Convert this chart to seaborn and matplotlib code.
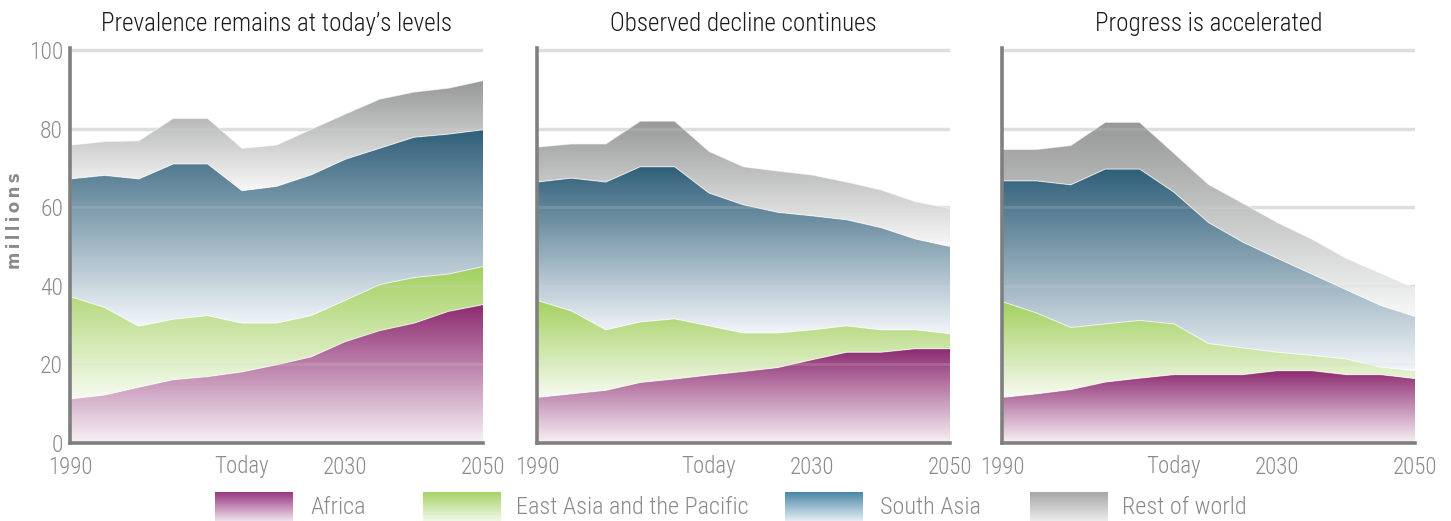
import numpy as np
import pandas as pd
import matplotlib
matplotlib.use("Agg")
import matplotlib.pyplot as plt
import seaborn as sns
from matplotlib.colors import LinearSegmentedColormap
from matplotlib.patches import Polygon
from matplotlib import font_manager

# ---------------- data ----------------
years = [1990, 1995, 2000, 2005, 2010, 2015, 2020, 2025, 2030, 2035, 2040, 2045, 2050]
tick_years = [1990, 2015, 2030, 2050]
tick_labels = ["1990", "Today", "2030", "2050"]
regions = ["Africa", "East Asia and the Pacific", "South Asia", "Rest of world"]
titles = ["Prevalence remains at today\u2019s levels", "Observed decline continues", "Progress is accelerated"]
y_ticks = [0, 20, 40, 60, 80, 100]

# scenario 1: prevalence remains at today's levels (millions)
s1_africa = [11.2, 12.2, 14.2, 16.1, 16.9, 18.1, 19.9, 21.9, 25.8, 28.6, 30.5, 33.5, 35.2]
s1_eap    = [26.1, 22.3, 15.5, 15.4, 15.5, 12.4, 10.6, 10.5, 10.5, 11.7, 11.6, 9.5, 9.7]
s1_sasia  = [29.9, 33.6, 37.5, 39.5, 38.6, 33.7, 34.8, 35.8, 35.9, 34.7, 35.7, 35.6, 34.8]
s1_rest   = [8.6, 8.6, 9.7, 11.6, 11.6, 10.8, 10.5, 11.6, 11.5, 12.5, 11.5, 11.7, 12.5]

# scenario 2: observed decline continues
s2_africa = [11.6, 12.5, 13.4, 15.4, 16.3, 17.3, 18.2, 19.2, 21.2, 23.1, 23.1, 24.0, 24.0]
s2_eap    = [24.7, 21.1, 15.4, 15.4, 15.3, 12.5, 9.8, 8.8, 7.6, 6.7, 5.7, 4.8, 3.8]
s2_sasia  = [30.1, 33.8, 37.6, 39.5, 38.7, 33.8, 32.6, 30.7, 29.0, 27.0, 26.0, 23.1, 22.2]
s2_rest   = [8.9, 8.7, 9.7, 11.6, 11.6, 10.6, 9.7, 10.5, 10.4, 9.6, 9.6, 9.5, 9.7]

# scenario 3: progress is accelerated
s3_africa = [11.6, 12.5, 13.6, 15.5, 16.5, 17.4, 17.4, 17.4, 18.4, 18.4, 17.4, 17.4, 16.4]
s3_eap    = [24.4, 20.6, 15.8, 14.8, 14.7, 12.9, 7.9, 6.8, 4.7, 3.9, 4.0, 1.9, 2.0]
s3_sasia  = [30.7, 33.6, 36.3, 39.4, 38.5, 33.5, 30.8, 26.9, 23.9, 20.7, 17.6, 15.7, 13.8]
s3_rest   = [8.0, 8.0, 10.0, 11.9, 11.9, 9.9, 9.7, 9.9, 9.1, 8.9, 8.0, 8.2, 7.2]

scenarios = [
    [s1_africa, s1_eap, s1_sasia, s1_rest],
    [s2_africa, s2_eap, s2_sasia, s2_rest],
    [s3_africa, s3_eap, s3_sasia, s3_rest],
]

# gradient colours (top, bottom) per region
top_colors = ["#8c2a70", "#a3d05f", "#2f5f79", "#979898"]
bot_colors = ["#f8f1f6", "#f7fbf1", "#f3f6fa", "#f8f8f8"]
leg_top_colors = ["#983580", "#a6d366", "#4a86a8", "#a6a6a6"]
leg_bot_colors = ["#efe2ec", "#f1f8e8", "#e6eef4", "#ececec"]

# ---------------- style ----------------
sns.set_theme(style="white")
avail = {f.name for f in font_manager.fontManager.ttflist}
FONT = "DejaVu Sans"
for cand in ["Roboto Condensed", "Liberation Sans Narrow", "DejaVu Sans"]:
    if cand in avail:
        FONT = cand
        break
plt.rcParams["font.family"] = [FONT, "DejaVu Sans"]
plt.rcParams["font.weight"] = "light"

W, H = 1451, 521
fig = plt.figure(figsize=(W / 100, H / 100), dpi=100)

GRAY_TXT = "#8a8a8a"
SPINE = "#7f7f7f"

panel_left_px = [70, 537, 1002]
panel_w_px = 413
y0_px, y100_px = 443, 50
ytop = 100.6
px_per_unit = (y0_px - y100_px) / 100.0
top_px = y0_px - ytop * px_per_unit


def grad_fill(ax, x, lo, hi, c_top, c_bot, z):
    verts = np.vstack([np.column_stack([x, hi]), np.column_stack([x[::-1], lo[::-1]])])
    patch = Polygon(verts, closed=True, facecolor="none", edgecolor="none", zorder=z)
    ax.add_patch(patch)
    cmap = LinearSegmentedColormap.from_list("g", [c_bot, c_top])
    grad = np.linspace(0, 1, 256).reshape(-1, 1)
    im = ax.imshow(grad, cmap=cmap, aspect="auto", origin="lower",
                   extent=[x[0], x[-1], lo.min(), hi.max()], zorder=z,
                   interpolation="bilinear")
    im.set_clip_path(patch)


x = np.array(years, dtype=float)
for i, layers in enumerate(scenarios):
    left = panel_left_px[i] / W
    bottom = (H - y0_px) / H
    ax = fig.add_axes([left, bottom, panel_w_px / W, (y0_px - top_px) / H])
    cum = np.zeros(len(years))
    rows = []
    for k, vals in enumerate(layers):
        lo = cum.copy()
        hi = cum + np.array(vals)
        grad_fill(ax, x, lo, hi, top_colors[k], bot_colors[k], 1 + k * 0.01)
        for yy, v in zip(years, hi):
            rows.append({"year": yy, "value": v, "region": regions[k]})
        cum = hi
    df = pd.DataFrame(rows)
    # thin light boundaries between stacked layers
    sns.lineplot(data=df, x="year", y="value", units="region", estimator=None,
                 color="white", lw=0.8, alpha=0.6, ax=ax, zorder=3, legend=False)
    # grid lines
    for gy in y_ticks[1:]:
        ax.axhline(gy, color="#e0e0e0", lw=2.5, zorder=0.5)
        ax.axhline(gy, color="#d8d8d8", lw=2.0, alpha=0.18, zorder=4)
    ax.set_xlim(1990, 2050)
    ax.set_ylim(0, ytop)
    for s in ["top", "right"]:
        ax.spines[s].set_visible(False)
    for s in ["left", "bottom"]:
        ax.spines[s].set_color(SPINE)
        ax.spines[s].set_linewidth(2.6)
        ax.spines[s].set_zorder(6)
    ax.set_xticks(tick_years)
    ax.set_xticklabels(tick_labels)
    ax.tick_params(axis="x", length=0, pad=9, labelsize=16.5, labelcolor=GRAY_TXT)
    ax.set_yticks(y_ticks)
    if i == 0:
        ax.tick_params(axis="y", length=0, pad=5, labelsize=17, labelcolor=GRAY_TXT)
    else:
        ax.tick_params(axis="y", length=0, labelleft=False)
    ax.set_xlabel("")
    ax.set_ylabel("")
    ax.set_title(titles[i], fontsize=18, color="#1a1a1a", pad=12, fontweight="light")
    ax.grid(False)

fig.text(15 / W, 1 - 221 / H, "\u2009".join("millions"), rotation=90, ha="center", va="center",
         fontsize=12, fontweight="bold", color=GRAY_TXT, family="DejaVu Sans")

# ---------------- legend ----------------
lax = fig.add_axes([0, 0, 1, 1], zorder=-1)
lax.set_xlim(0, W)
lax.set_ylim(H, 0)
lax.axis("off")
sw_x = [215, 423, 785, 1030]
sw_w = 78
txt_x = [310, 516, 880, 1122]
grad = np.linspace(0, 1, 256).reshape(-1, 1)
for k in range(4):
    cmap = LinearSegmentedColormap.from_list("lg", [leg_top_colors[k], leg_bot_colors[k]])
    lax.imshow(grad, cmap=cmap, aspect="auto", origin="upper",
               extent=[sw_x[k], sw_x[k] + sw_w, H, 492], interpolation="bilinear")
    lax.text(txt_x[k], 507, regions[k], ha="left", va="center", fontsize=17.5, color=GRAY_TXT)
lax.set_xlim(0, W)
lax.set_ylim(H, 0)

fig.savefig("out.png", dpi=100)
